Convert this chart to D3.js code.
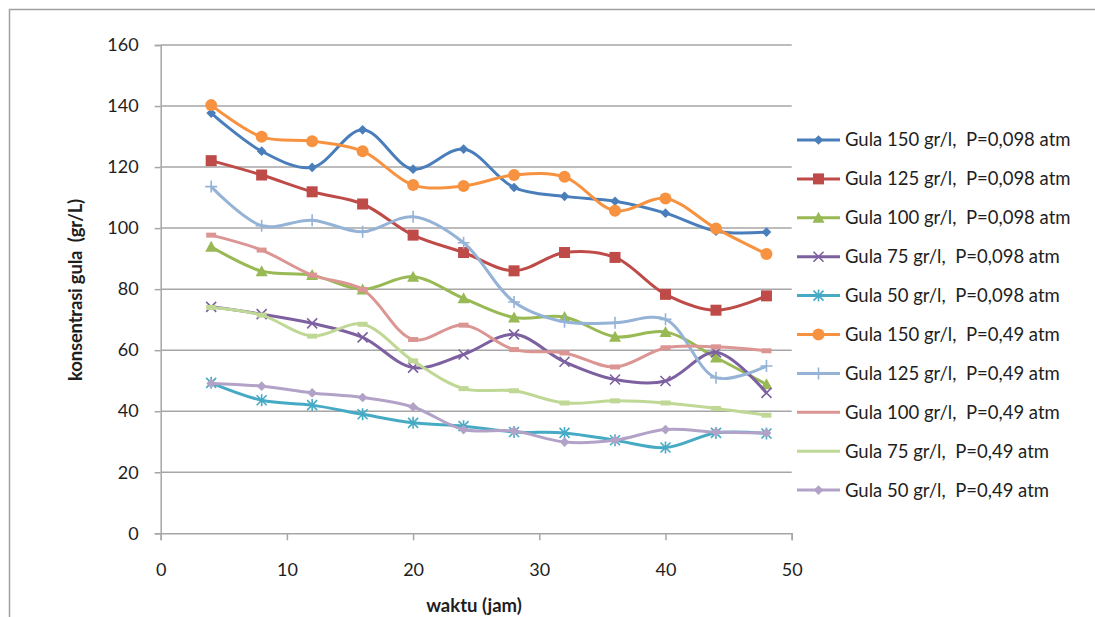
<!DOCTYPE html>
<html>
<head>
<meta charset="utf-8">
<script src="https://cdn.jsdelivr.net/npm/d3@7"></script>
<style>
  html, body { margin: 0; padding: 0; background: #fff; }
  svg { display: block; }
  text { font-family: Lato, "Open Sans", sans-serif; fill: #1e1e1e; white-space: pre; }
</style>
</head>
<body>
<svg id="chart" width="1095" height="617"></svg>
<script>
// Time of sampling (hours)
const hours = [4, 8, 12, 16, 20, 24, 28, 32, 36, 40, 44, 48];

// Sugar concentration (gr/L) for each initial concentration and pressure
const gula150_098 = [137.7, 125.2, 119.9, 132.2, 119.3, 125.9, 113.3, 110.4, 108.8, 104.9, 99.0, 98.7];
const gula125_098 = [122.1, 117.4, 111.9, 107.9, 97.7, 92.0, 86.0, 92.0, 90.4, 78.3, 73.1, 77.8];
const gula100_098 = [93.9, 85.9, 84.6, 79.9, 84.1, 77.0, 70.7, 70.9, 64.4, 66.0, 57.6, 48.8];
const gula75_098  = [74.2, 71.8, 68.8, 64.2, 54.3, 58.6, 65.2, 56.2, 50.4, 49.9, 59.3, 46.0];
const gula50_098  = [49.3, 43.6, 42.0, 39.0, 36.2, 35.1, 33.2, 32.9, 30.5, 28.1, 32.9, 32.7];
const gula150_049 = [140.3, 129.9, 128.5, 125.2, 114.1, 113.8, 117.4, 116.8, 105.7, 109.7, 99.9, 91.5];
const gula125_049 = [113.6, 100.8, 102.6, 98.8, 103.7, 95.2, 75.8, 69.3, 69.0, 70.1, 51.0, 54.8];
const gula100_049 = [97.7, 92.8, 84.6, 79.9, 63.5, 68.2, 60.2, 59.1, 54.5, 60.8, 61.1, 59.8];
const gula75_049  = [74.0, 71.5, 64.6, 68.5, 56.5, 47.4, 46.7, 42.7, 43.4, 42.7, 40.9, 38.7];
const gula50_049  = [49.1, 48.2, 46.0, 44.5, 41.4, 34.0, 33.5, 29.9, 30.5, 34.0, 33.2, 32.9];

const seriesNames = [
  "Gula 150 gr/l,  P=0,098 atm",
  "Gula 125 gr/l,  P=0,098 atm",
  "Gula 100 gr/l,  P=0,098 atm",
  "Gula 75 gr/l,  P=0,098 atm",
  "Gula 50 gr/l,  P=0,098 atm",
  "Gula 150 gr/l,  P=0,49 atm",
  "Gula 125 gr/l,  P=0,49 atm",
  "Gula 100 gr/l,  P=0,49 atm",
  "Gula 75 gr/l,  P=0,49 atm",
  "Gula 50 gr/l,  P=0,49 atm"
];
const seriesValues = [gula150_098, gula125_098, gula100_098, gula75_098, gula50_098,
                      gula150_049, gula125_049, gula100_049, gula75_049, gula50_049];
const seriesColors = ["#4a7ebb", "#be4b48", "#98b954", "#7d60a0", "#46aac5",
                      "#f69240", "#95b3d7", "#db9694", "#c0d895", "#b3a2c7"];
const seriesMarkers = ["diamond", "square", "triangle", "x", "asterisk",
                       "circle", "plus", "dash", "dash", "diamond"];

const xTicks = [0, 10, 20, 30, 40, 50];
const yTicks = [0, 20, 40, 60, 80, 100, 120, 140, 160];

const svg = d3.select("#chart");
const gridColor = "#a6a6a6";

// Outer chart frame
svg.append("rect")
  .attr("x", 9.5).attr("y", 9.5)
  .attr("width", 1200).attr("height", 700)
  .attr("fill", "none").attr("stroke", "#a0a0a0").attr("stroke-width", 1.5);

const x = d3.scaleLinear().domain([0, 50]).range([160.7, 791.7]);
const y = d3.scaleLinear().domain([0, 160]).range([533.3, 45]);

// Horizontal gridlines
svg.append("g").selectAll("line").data(yTicks.filter(d => d > 0)).join("line")
  .attr("x1", x(0)).attr("x2", x(50))
  .attr("y1", d => y(d)).attr("y2", d => y(d))
  .attr("stroke", gridColor).attr("stroke-width", 1.5);

// Y axis
const yAxis = svg.append("g").attr("transform", `translate(${x(0)},0)`)
  .call(d3.axisLeft(y).tickValues(yTicks).tickSize(6).tickPadding(16));
yAxis.select(".domain").attr("stroke", gridColor).attr("stroke-width", 1.5);
yAxis.selectAll(".tick line").attr("stroke", gridColor).attr("stroke-width", 1.5);
yAxis.selectAll(".tick text").style("font-family", "Lato, sans-serif")
  .style("font-size", "18px").attr("fill", "#1e1e1e");

// X axis
const xAxis = svg.append("g").attr("transform", `translate(0,${y(0)})`)
  .call(d3.axisBottom(x).tickValues(xTicks).tickSize(7).tickPadding(23));
xAxis.select(".domain").attr("stroke", gridColor).attr("stroke-width", 1.5);
xAxis.selectAll(".tick line").attr("stroke", gridColor).attr("stroke-width", 1.5);
xAxis.selectAll(".tick text").style("font-family", "Lato, sans-serif")
  .style("font-size", "18px").attr("fill", "#1e1e1e");

// Axis titles
svg.append("text")
  .attr("x", 474).attr("y", 612)
  .attr("text-anchor", "middle")
  .style("font-size", "18.5px").style("font-weight", "bold")
  .text("waktu (jam)");

svg.append("text")
  .attr("transform", "translate(82,290) rotate(-90)")
  .attr("text-anchor", "middle")
  .style("font-size", "18.5px").style("font-weight", "bold")
  .style("letter-spacing", "-0.2px")
  .text("konsentrasi gula  (gr/L)");

// Marker drawing
function drawMarker(g, type, color) {
  switch (type) {
    case "diamond":
      g.append("path").attr("d", d3.symbol(d3.symbolDiamond2, 60)()).attr("fill", color);
      break;
    case "square":
      g.append("rect").attr("x", -5.5).attr("y", -5.5).attr("width", 11).attr("height", 11).attr("fill", color);
      break;
    case "triangle":
      g.append("path").attr("d", "M0,-6L6,5L-6,5Z").attr("fill", color);
      break;
    case "circle":
      g.append("circle").attr("r", 6).attr("fill", color);
      break;
    case "x":
      g.append("path").attr("d", "M-5,-5L5,5M-5,5L5,-5").attr("stroke", color).attr("stroke-width", 1.6).attr("fill", "none");
      break;
    case "asterisk":
      g.append("path").attr("d", "M-5,-5L5,5M-5,5L5,-5M0,-6L0,6").attr("stroke", color).attr("stroke-width", 1.6).attr("fill", "none");
      break;
    case "plus":
      g.append("path").attr("d", "M-6,0L6,0M0,-6L0,6").attr("stroke", color).attr("stroke-width", 1.6).attr("fill", "none");
      break;
    case "dash":
      g.append("rect").attr("x", -5).attr("y", -2.5).attr("width", 10).attr("height", 5).attr("fill", color);
      break;
  }
}

// Smoothed series lines with markers
const line = d3.line()
  .x((d, i) => x(hours[i]))
  .y(d => y(d))
  .curve(d3.curveCatmullRom.alpha(0.5));

const plot = svg.append("g");
seriesValues.forEach((vals, si) => {
  const sg = plot.append("g");
  sg.append("path").datum(vals)
    .attr("d", line)
    .attr("fill", "none")
    .attr("stroke", seriesColors[si])
    .attr("stroke-width", 3)
    .attr("stroke-linejoin", "round");
  vals.forEach((v, i) => {
    const mg = sg.append("g").attr("transform", `translate(${x(hours[i])},${y(v)})`);
    drawMarker(mg, seriesMarkers[si], seriesColors[si]);
  });
});

// Legend
const legend = svg.append("g");
seriesNames.forEach((name, i) => {
  const ly = 140 + i * 38.9;
  const lg = legend.append("g").attr("transform", `translate(797,${ly})`);
  lg.append("line").attr("x1", 0).attr("x2", 43).attr("y1", 0).attr("y2", 0)
    .attr("stroke", seriesColors[i]).attr("stroke-width", 3);
  const mg = lg.append("g").attr("transform", "translate(21.5,0)");
  if (seriesMarkers[i] !== "dash") drawMarker(mg, seriesMarkers[i], seriesColors[i]);
  lg.append("text").attr("x", 48).attr("y", 0).attr("dy", "0.35em")
    .style("font-size", "18.5px")
    .text(name);
});
</script>
</body>
</html>
